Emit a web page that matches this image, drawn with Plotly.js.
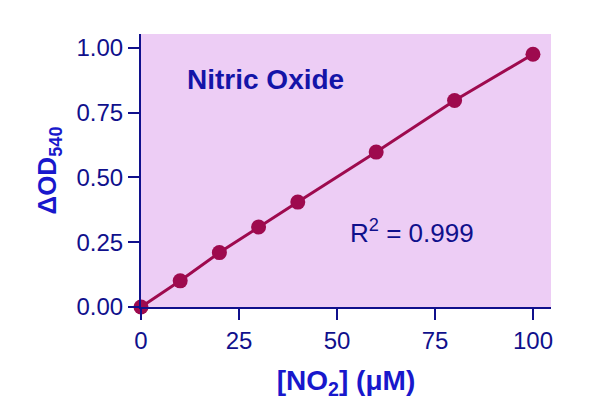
<!DOCTYPE html>
<html>
<head>
<meta charset="utf-8">
<script src="https://cdn.plot.ly/plotly-3.0.1.min.js"></script>
<style>
  html, body { margin: 0; padding: 0; background: #fff; }
  #chart { width: 611px; height: 419px; }
</style>
</head>
<body>
<div id="chart"></div>
<script>
// nitrite standard curve
const no2 = [0, 10, 20, 30, 40, 60, 80, 100];
const dOD = [0, 0.101, 0.210, 0.309, 0.405, 0.598, 0.797, 0.976];
const xTicks = [0, 25, 50, 75, 100];
const yTicks = [0, 0.25, 0.5, 0.75, 1.0];
const yTickText = ["0.00", "0.25", "0.50", "0.75", "1.00"];

const navy = "#10108c";
const blue = "#1818cc";
const wine = "#9e0a4e";
const font = "Liberation Sans, Arial, sans-serif";

const trace = {
  x: no2,
  y: dOD,
  type: "scatter",
  mode: "lines+markers",
  cliponaxis: false,
  line: { color: wine, width: 3 },
  marker: { color: wine, size: 15 },
  hoverinfo: "skip",
};

const layout = {
  width: 611,
  height: 419,
  margin: { l: 141, r: 60, t: 34, b: 112 },
  paper_bgcolor: "#ffffff",
  plot_bgcolor: "#edcdf5",
  showlegend: false,
  font: { family: font, color: navy },
  xaxis: {
    range: [0, 104.6],
    tickvals: xTicks,
    ticks: "outside",
    ticklen: 11,
    tickwidth: 2,
    tickcolor: navy,
    showline: true,
    linecolor: navy,
    linewidth: 2,
    showgrid: false,
    zeroline: false,
    tickfont: { size: 24, color: navy },
    title: {
      text: "[NO<sub>2</sub>] (μM)",
      font: { size: 28, color: blue, family: font, weight: "bold" },
      standoff: 18,
    },
  },
  yaxis: {
    range: [0, 1.054],
    tickvals: yTicks,
    ticktext: yTickText,
    ticks: "outside",
    ticklen: 11,
    tickwidth: 2,
    tickcolor: navy,
    showline: true,
    linecolor: navy,
    linewidth: 2,
    showgrid: false,
    zeroline: false,
    tickfont: { size: 24, color: navy },
    title: {
      text: "ΔOD<sub>540</sub>",
      font: { size: 26, color: blue, family: font, weight: "bold" },
      standoff: 12,
    },
  },
  annotations: [
    {
      text: "<b>Nitric Oxide</b>",
      xref: "paper", yref: "paper",
      x: (185 - 141) / 410, y: (307 - 79) / 273,
      xanchor: "left", yanchor: "middle",
      showarrow: false,
      font: { size: 28, color: "#1414a8", family: font },
    },
    {
      text: "R<sup>2</sup> = 0.999",
      xref: "paper", yref: "paper",
      x: (348 - 141) / 410, y: (307 - 231) / 273,
      xanchor: "left", yanchor: "middle",
      showarrow: false,
      font: { size: 26, color: navy, family: font },
    },
  ],
};

Plotly.newPlot("chart", [trace], layout, { staticPlot: true });
</script>
</body>
</html>
